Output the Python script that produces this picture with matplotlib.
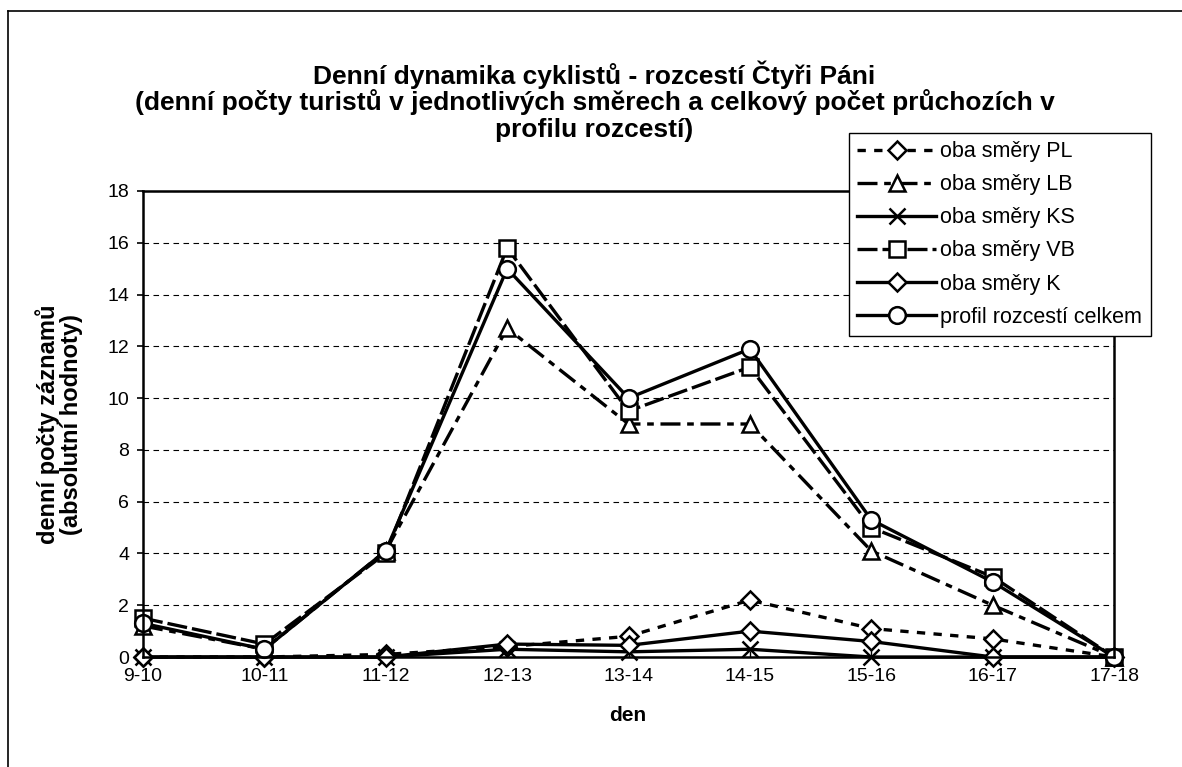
import numpy as np
import matplotlib.pyplot as plt
from matplotlib.lines import Line2D

plt.rcParams['font.family'] = ['Liberation Sans', 'DejaVu Sans']

# data
hours = ['9-10', '10-11', '11-12', '12-13', '13-14', '14-15', '15-16', '16-17', '17-18']
pl = [0, 0, 0.1, 0.4, 0.8, 2.2, 1.1, 0.7, 0]
lb = [1.2, 0.3, 4.1, 12.7, 9.0, 9.0, 4.1, 2.0, 0]
ks = [0, 0, 0, 0.3, 0.2, 0.3, 0, 0, 0]
vb = [1.5, 0.5, 4.0, 15.8, 9.5, 11.2, 5.0, 3.1, 0]
k = [0, 0, 0, 0.5, 0.45, 1.0, 0.6, 0, 0]
total = [1.3, 0.3, 4.1, 15.0, 10.0, 11.9, 5.3, 2.9, 0]

labels = ['oba směry PL', 'oba směry LB', 'oba směry KS',
          'oba směry VB', 'oba směry K', 'profil rozcestí celkem']
title_lines = ['Denní dynamika cyklistů - rozcestí Čtyři Páni',
               '(denní počty turistů v jednotlivých směrech a celkový počet průchozích v',
               'profilu rozcestí)']

fig = plt.figure(figsize=(11.82, 7.67), dpi=100)
ax = fig.add_axes([0.121, 0.1434, 0.8215, 0.6076])

x = np.arange(len(hours))
lw = 2.4
mk = dict(color='black', markerfacecolor='white', markeredgecolor='black',
          markeredgewidth=1.8, linewidth=lw, clip_on=False)

ax.plot(x, pl, marker='D', markersize=9, dashes=(2.5, 2.5), label=labels[0], **mk)
ax.plot(x, lb, marker='^', markersize=11, dashes=(6, 2, 2, 2), label=labels[1], **mk)
ax.plot(x, ks, marker='x', markersize=11, label=labels[2], **mk)
ax.plot(x, vb, marker='s', markersize=11, dashes=(6, 1.5), label=labels[3], **mk)
ax.plot(x, k, marker='D', markersize=9, label=labels[4], **mk)
ax.plot(x, total, marker='o', markersize=12, label=labels[5], **mk)

ax.set_xlim(0, len(hours) - 1)
ax.set_ylim(0, 18)
ax.set_xticks(x)
ax.set_xticklabels(hours, fontsize=14)
ax.set_yticks(np.arange(0, 19, 2))
ax.tick_params(axis='y', labelsize=14, direction='out', length=4, width=1.2, pad=6)
ax.tick_params(axis='x', direction='in', length=4, width=1, pad=8)
ax.yaxis.grid(True, color='black', linestyle=(0, (5, 4)), linewidth=0.8)
ax.set_axisbelow(True)
for s in ax.spines.values():
    s.set_linewidth(1.8)

fig.text(0.05, 0.447, 'denní počty záznamů\n(absolutní hodnoty)', rotation=90,
         ha='center', va='center', fontsize=17, fontweight='bold',
         linespacing=1.05)
fig.text(0.531, 0.0665, 'den', ha='center', va='center', fontsize=15,
         fontweight='bold')

# title, one text per line
for i, line in enumerate(title_lines):
    fig.text(0.503, 0.902 - i * 0.0355, line, ha='center', va='center',
             fontsize=19, fontweight='bold')

leg = fig.legend(loc='upper left', bbox_to_anchor=(0.718, 0.827), fontsize=15.5,
                 frameon=True, fancybox=False, edgecolor='black', framealpha=1,
                 handlelength=3.65, handletextpad=0.2, borderpad=0.4,
                 labelspacing=0.56, borderaxespad=0)
leg.get_frame().set_linewidth(1.0)

# outer chart border
fig.add_artist(Line2D([0.0068, 0.0068], [0.9857, 0], color='black', lw=1.2,
                      transform=fig.transFigure))
fig.add_artist(Line2D([0.0068, 1], [0.9857, 0.9857], color='black', lw=1.2,
                      transform=fig.transFigure))

fig.savefig('out.png', dpi=100)
